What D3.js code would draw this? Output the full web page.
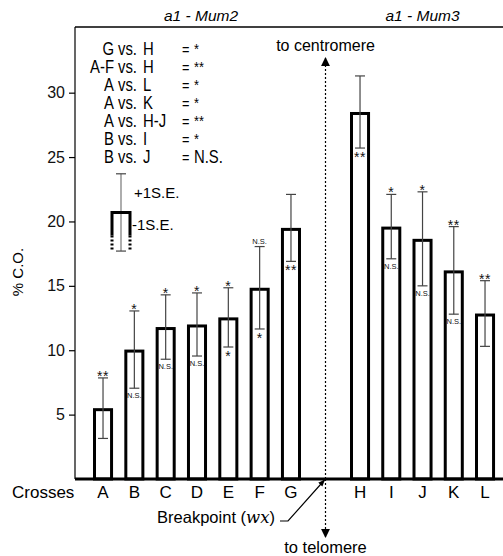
<!DOCTYPE html>
<html>
<head>
<meta charset="utf-8">
<script src="https://cdn.jsdelivr.net/npm/d3@7"></script>
<style>
  body { margin: 0; background: #fff; }
  svg { font-family: "Liberation Sans", Arial, sans-serif; }
</style>
</head>
<body>
<svg width="503" height="556"></svg>
<script>
// crosses on each side of the breakpoint
const leftCrosses = ["A", "B", "C", "D", "E", "F", "G"];
const rightCrosses = ["H", "I", "J", "K", "L"];
const groupTitles = ["a1 - Mum2", "a1 - Mum3"];

// mean % crossing over and standard error
const coValues = [5.5, 10.05, 11.8, 12.0, 12.55, 14.85, 19.5, 28.5, 19.6, 18.65, 16.2, 12.85];
const seValues = [2.35, 3.0, 2.5, 2.45, 2.3, 3.2, 2.6, 2.8, 2.5, 3.65, 3.4, 2.55];
// significance marks above (+1 S.E.) and below (-1 S.E.) each bar
const upperMarks = ["**", "*", "*", "*", "*", "N.S.", "", "", "*", "*", "**", "**"];
const lowerMarks = ["", "N.S.", "N.S.", "N.S.", "*", "*", "**", "**", "N.S.", "N.S.", "N.S.", ""];

const yTicks = [5, 10, 15, 20, 25, 30];

const comparisons = [
  ["G", "H", "*"],
  ["A-F", "H", "**"],
  ["A", "L", "*"],
  ["A", "K", "*"],
  ["A", "H-J", "**"],
  ["B", "I", "*"],
  ["B", "J", "N.S."]
];
// key error bar: mean and S.E.
const keyMean = 20.7, keySE = 3.0;

const svg = d3.select("svg");
const baseY = 479, topY = 27, axisX = 75, rightX = 503;

const y = d3.scaleLinear().domain([0, 35.1]).range([baseY, topY]);
const xLeft = d3.scaleBand().domain(leftCrosses).range([93, 301]).paddingInner(0.36);
const xRight = d3.scaleBand().domain(rightCrosses).range([350, 495]).paddingInner(0.36);

const allCrosses = leftCrosses.concat(rightCrosses);
const data = allCrosses.map((c, i) => ({
  cross: c, co: coValues[i], se: seValues[i],
  up: upperMarks[i], low: lowerMarks[i],
  x: leftCrosses.includes(c) ? xLeft(c) : xRight(c)
}));
const bw = xLeft.bandwidth();
const breakX = (xLeft("G") + bw + xRight("H")) / 2;

// frame: top line and y axis
svg.append("line")
  .attr("x1", axisX).attr("x2", rightX).attr("y1", topY).attr("y2", topY)
  .attr("stroke", "#000").attr("stroke-width", 1.5);

const yAxis = svg.append("g")
  .attr("transform", `translate(${axisX},0)`)
  .call(d3.axisLeft(y).tickValues(yTicks).tickSize(6).tickPadding(4));
yAxis.select(".domain").attr("d", `M0,${topY}V${baseY}`).attr("stroke-width", 1.2);
yAxis.selectAll(".tick line").attr("stroke-width", 1.2);
yAxis.selectAll(".tick text")
  .attr("font-size", 16).attr("font-family", "Liberation Sans, Arial, sans-serif")
  .attr("fill", "#111");

svg.append("text")
  .attr("transform", `translate(23,272) rotate(-90)`)
  .attr("text-anchor", "middle")
  .attr("font-size", 15)
  .text("% C.O.");

// group titles
svg.selectAll(".title")
  .data(groupTitles)
  .enter().append("text")
  .attr("class", "title")
  .attr("x", (d, i) => i === 0 ? (xLeft("A") + xLeft("G") + bw) / 2 + 4 : (xRight("H") + xRight("L") + bw) / 2)
  .attr("y", 21)
  .attr("text-anchor", "middle")
  .attr("font-size", 15.5)
  .attr("font-style", "italic")
  .text(d => d);

// bars
svg.selectAll(".bar")
  .data(data)
  .enter().append("rect")
  .attr("class", "bar")
  .attr("x", d => d.x + 1.5)
  .attr("y", d => y(d.co) + 1.5)
  .attr("width", bw - 3)
  .attr("height", d => baseY - y(d.co) - 1.5)
  .attr("fill", "#fff")
  .attr("stroke", "#000")
  .attr("stroke-width", 3);

// error bars
const eb = svg.selectAll(".err")
  .data(data)
  .enter().append("g")
  .attr("class", "err")
  .attr("stroke", "#444")
  .attr("stroke-width", 1.2);
eb.append("line")
  .attr("x1", d => d.x + bw / 2).attr("x2", d => d.x + bw / 2)
  .attr("y1", d => y(d.co + d.se)).attr("y2", d => y(d.co - d.se));
eb.append("line")
  .attr("x1", d => d.x + bw / 2 - 5).attr("x2", d => d.x + bw / 2 + 5)
  .attr("y1", d => y(d.co + d.se)).attr("y2", d => y(d.co + d.se));
eb.append("line")
  .attr("x1", d => d.x + bw / 2 - 5).attr("x2", d => d.x + bw / 2 + 5)
  .attr("y1", d => y(d.co - d.se)).attr("y2", d => y(d.co - d.se));

// significance marks
function markText(sel, key, above) {
  sel.append("text")
    .attr("x", d => d.x + bw / 2)
    .attr("y", d => {
      const cy = above ? y(d.co + d.se) : y(d.co - d.se);
      if (d[key] === "N.S.") return above ? cy - 3 : cy + 10;
      return above ? cy + 3 : cy + 14;
    })
    .attr("text-anchor", "middle")
    .attr("font-size", d => d[key] === "N.S." ? 7.5 : 14)
    .attr("letter-spacing", d => d[key] === "N.S." ? 0 : 0.5)
    .attr("fill", "#111")
    .text(d => d[key]);
}
const marks = svg.selectAll(".mark").data(data).enter().append("g").attr("class", "mark");
markText(marks, "up", true);
markText(marks, "low", false);

// baseline
svg.append("line")
  .attr("x1", axisX).attr("x2", rightX).attr("y1", baseY).attr("y2", baseY)
  .attr("stroke", "#000").attr("stroke-width", 3);

// cross labels
svg.append("text").attr("x", 12).attr("y", 498).attr("font-size", 17).text("Crosses");
svg.selectAll(".xlab")
  .data(data)
  .enter().append("text")
  .attr("class", "xlab")
  .attr("x", d => d.x + bw / 2)
  .attr("y", 498)
  .attr("text-anchor", "middle")
  .attr("font-size", 17)
  .text(d => d.cross);

// comparison table (narrow lettering, as in the original)
const sx = 0.85;
const rowY = i => 55 + i * 18;
const table = svg.append("g").attr("transform", `scale(${sx},1)`);
const rows = table.selectAll(".cmp").data(comparisons).enter().append("g")
  .attr("class", "cmp").attr("font-size", 17.5);
rows.append("text").attr("x", 114 / sx).attr("y", (d, i) => rowY(i)).attr("text-anchor", "end").text(d => d[0]);
rows.append("text").attr("x", 118 / sx).attr("y", (d, i) => rowY(i)).text("vs.");
rows.append("text").attr("x", 143 / sx).attr("y", (d, i) => rowY(i)).text(d => d[1]);
rows.append("text").attr("x", 182 / sx).attr("y", (d, i) => rowY(i)).attr("font-size", 15).text("=");
rows.append("text").attr("x", 194 / sx).attr("y", (d, i) => rowY(i) - (d[2] === "N.S." ? 0 : 1))
  .attr("font-size", d => d[2] === "N.S." ? 17.5 : 15).text(d => d[2]);

// S.E. key
const keyX = 121, keyHalf = 9;
const key = svg.append("g");
key.append("line").attr("x1", keyX).attr("x2", keyX)
  .attr("y1", y(keyMean + keySE)).attr("y2", y(keyMean - keySE))
  .attr("stroke", "#777").attr("stroke-width", 1.2);
[keyMean + keySE, keyMean - keySE].forEach(v => {
  key.append("line").attr("x1", keyX - 5).attr("x2", keyX + 5)
    .attr("y1", y(v)).attr("y2", y(v)).attr("stroke", "#444").attr("stroke-width", 1.2);
});
key.append("path")
  .attr("d", `M${keyX - keyHalf},${y(keyMean - keySE * 0.6)}V${y(keyMean)}H${keyX + keyHalf}V${y(keyMean - keySE * 0.6)}`)
  .attr("fill", "none").attr("stroke", "#000").attr("stroke-width", 3);
[keyX - keyHalf, keyX + keyHalf].forEach(xx => {
  key.append("line").attr("x1", xx).attr("x2", xx)
    .attr("y1", y(keyMean - keySE * 0.6)).attr("y2", y(keyMean - keySE))
    .attr("stroke", "#000").attr("stroke-width", 3).attr("stroke-dasharray", "2,2");
});
key.append("text").attr("x", 134).attr("y", y(keyMean + keySE / 2) + 5).attr("font-size", 15).text("+1S.E.");
key.append("text").attr("x", 132).attr("y", y(keyMean - keySE / 3) + 5).attr("font-size", 15).text("-1S.E.");

// breakpoint arrows
const defs = svg.append("defs");
defs.append("marker").attr("id", "head")
  .attr("viewBox", "0 0 10 10").attr("refX", 9).attr("refY", 5)
  .attr("markerWidth", 9).attr("markerHeight", 9).attr("markerUnits", "userSpaceOnUse")
  .attr("orient", "auto")
  .append("path").attr("d", "M0,0L10,5L0,10Z").attr("fill", "#000");
defs.append("marker").attr("id", "smallhead")
  .attr("viewBox", "0 0 10 10").attr("refX", 9).attr("refY", 5)
  .attr("markerWidth", 7).attr("markerHeight", 7).attr("markerUnits", "userSpaceOnUse")
  .attr("orient", "auto")
  .append("path").attr("d", "M0,1L10,5L0,9Z").attr("fill", "#000");

svg.append("line")
  .attr("x1", breakX).attr("x2", breakX).attr("y1", baseY).attr("y2", 58)
  .attr("stroke", "#000").attr("stroke-width", 1.2).attr("stroke-dasharray", "2,2")
  .attr("marker-end", "url(#head)");
svg.append("line")
  .attr("x1", breakX).attr("x2", breakX).attr("y1", baseY).attr("y2", 537)
  .attr("stroke", "#000").attr("stroke-width", 1.2).attr("stroke-dasharray", "2,2")
  .attr("marker-end", "url(#head)");
svg.append("text").attr("x", breakX).attr("y", 51).attr("text-anchor", "middle")
  .attr("font-size", 16).text("to centromere");
svg.append("text").attr("x", breakX).attr("y", 553).attr("text-anchor", "middle")
  .attr("font-size", 16.5).text("to telomere");

// breakpoint pointer
const bp = svg.append("text").attr("x", 275).attr("y", 523).attr("text-anchor", "end").attr("font-size", 16.5);
bp.append("tspan").text("Breakpoint (");
bp.append("tspan").attr("font-style", "italic").attr("font-family", "DejaVu Serif, serif").text("wx");
bp.append("tspan").text(")");
svg.append("path")
  .attr("d", `M280,521H288L${breakX - 1},${baseY + 1}`)
  .attr("fill", "none").attr("stroke", "#000").attr("stroke-width", 1.2)
  .attr("marker-end", "url(#smallhead)");
</script>
</body>
</html>
